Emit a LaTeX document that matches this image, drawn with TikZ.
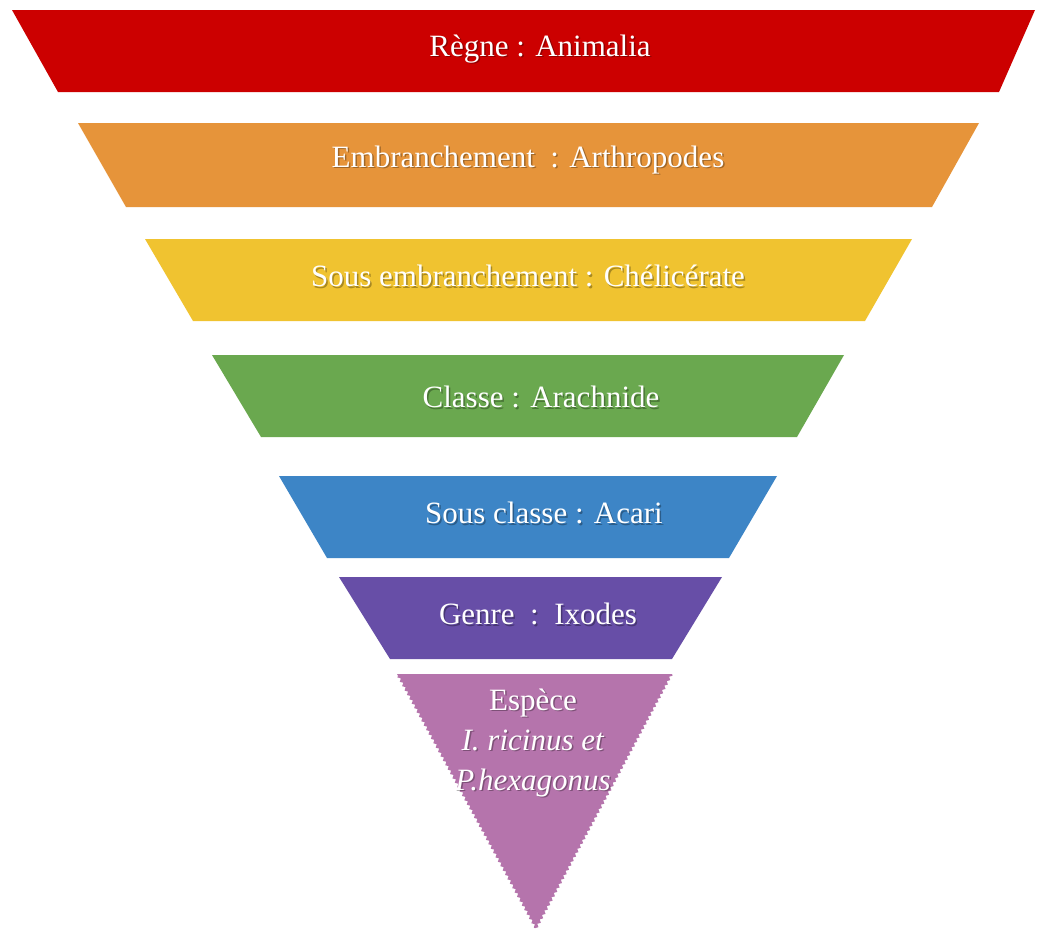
\documentclass[tikz,border=0pt]{standalone}
\usepackage{fontspec}
\setmainfont{Liberation Serif}
\usetikzlibrary{decorations.pathmorphing}
\definecolor{cRed}{HTML}{CC0000}
\definecolor{cOrange}{HTML}{E6943A}
\definecolor{cYellow}{HTML}{F0C330}
\definecolor{cGreen}{HTML}{6AA84F}
\definecolor{cBlue}{HTML}{3D85C6}
\definecolor{cPurple}{HTML}{674EA7}
\definecolor{cPink}{HTML}{B574AC}
\tikzset{
  lbl/.style={text=white, font=\fontsize{31}{40}\selectfont, inner sep=0pt, align=center},
  shd/.style={text=black, opacity=0.3, font=\fontsize{31}{40}\selectfont, inner sep=0pt, align=center},
  jag/.style={decoration={zigzag, segment length=5pt, amplitude=1.3pt}}
}
\newcommand{\lab}[3]{%
  \node[shd] at ([shift={(1.5,1.5)}]#2) {#3};
  \node[lbl] (#1) at (#2) {#3};}
\begin{document}
\begin{tikzpicture}[x=1pt,y=-1pt]
\useasboundingbox (0,0) rectangle (1038,929);
\fill[white] (0,0) rectangle (1038,929);
% bands
\fill[cRed]    (12,10)  -- (1035,10)  -- (999,92)  -- (58,92)  -- cycle;
\fill[cOrange] (78,123) -- (979,123)  -- (932,207) -- (126,207) -- cycle;
\fill[cYellow] (145,239) -- (912,239) -- (865,321) -- (193,321) -- cycle;
\fill[cGreen]  (212,355) -- (844,355) -- (797,437) -- (261,437) -- cycle;
\fill[cBlue]   (279,476) -- (777,476) -- (729,558) -- (327,558) -- cycle;
\fill[cPurple] (339,577) -- (722,577) -- (672,659) -- (390,659) -- cycle;
\fill[cPink, jag] (397,674) -- (672,674) decorate { -- (536,929) -- (397,674) } -- cycle;
% labels
\coordinate (p1) at (540,49);
\coordinate (p2) at (528,160);
\coordinate (p3) at (528,276);
\coordinate (p4) at (541,397);
\coordinate (p5) at (544,513);
\coordinate (p6) at (538,614);
\coordinate (p7) at (533,743);
\lab{t1}{p1}{Règne : Animalia}
\lab{t2}{p2}{Embranchement\ \ : Arthropodes}
\lab{t3}{p3}{Sous embranchement : Chélicérate}
\lab{t4}{p4}{Classe : Arachnide}
\lab{t5}{p5}{Sous classe : Acari}
\lab{t6}{p6}{Genre\ \ :\ \ Ixodes}
\lab{t7}{p7}{Espèce\\\textit{I. ricinus et}\\\textit{P.hexagonus}}
\end{tikzpicture}
\end{document}
